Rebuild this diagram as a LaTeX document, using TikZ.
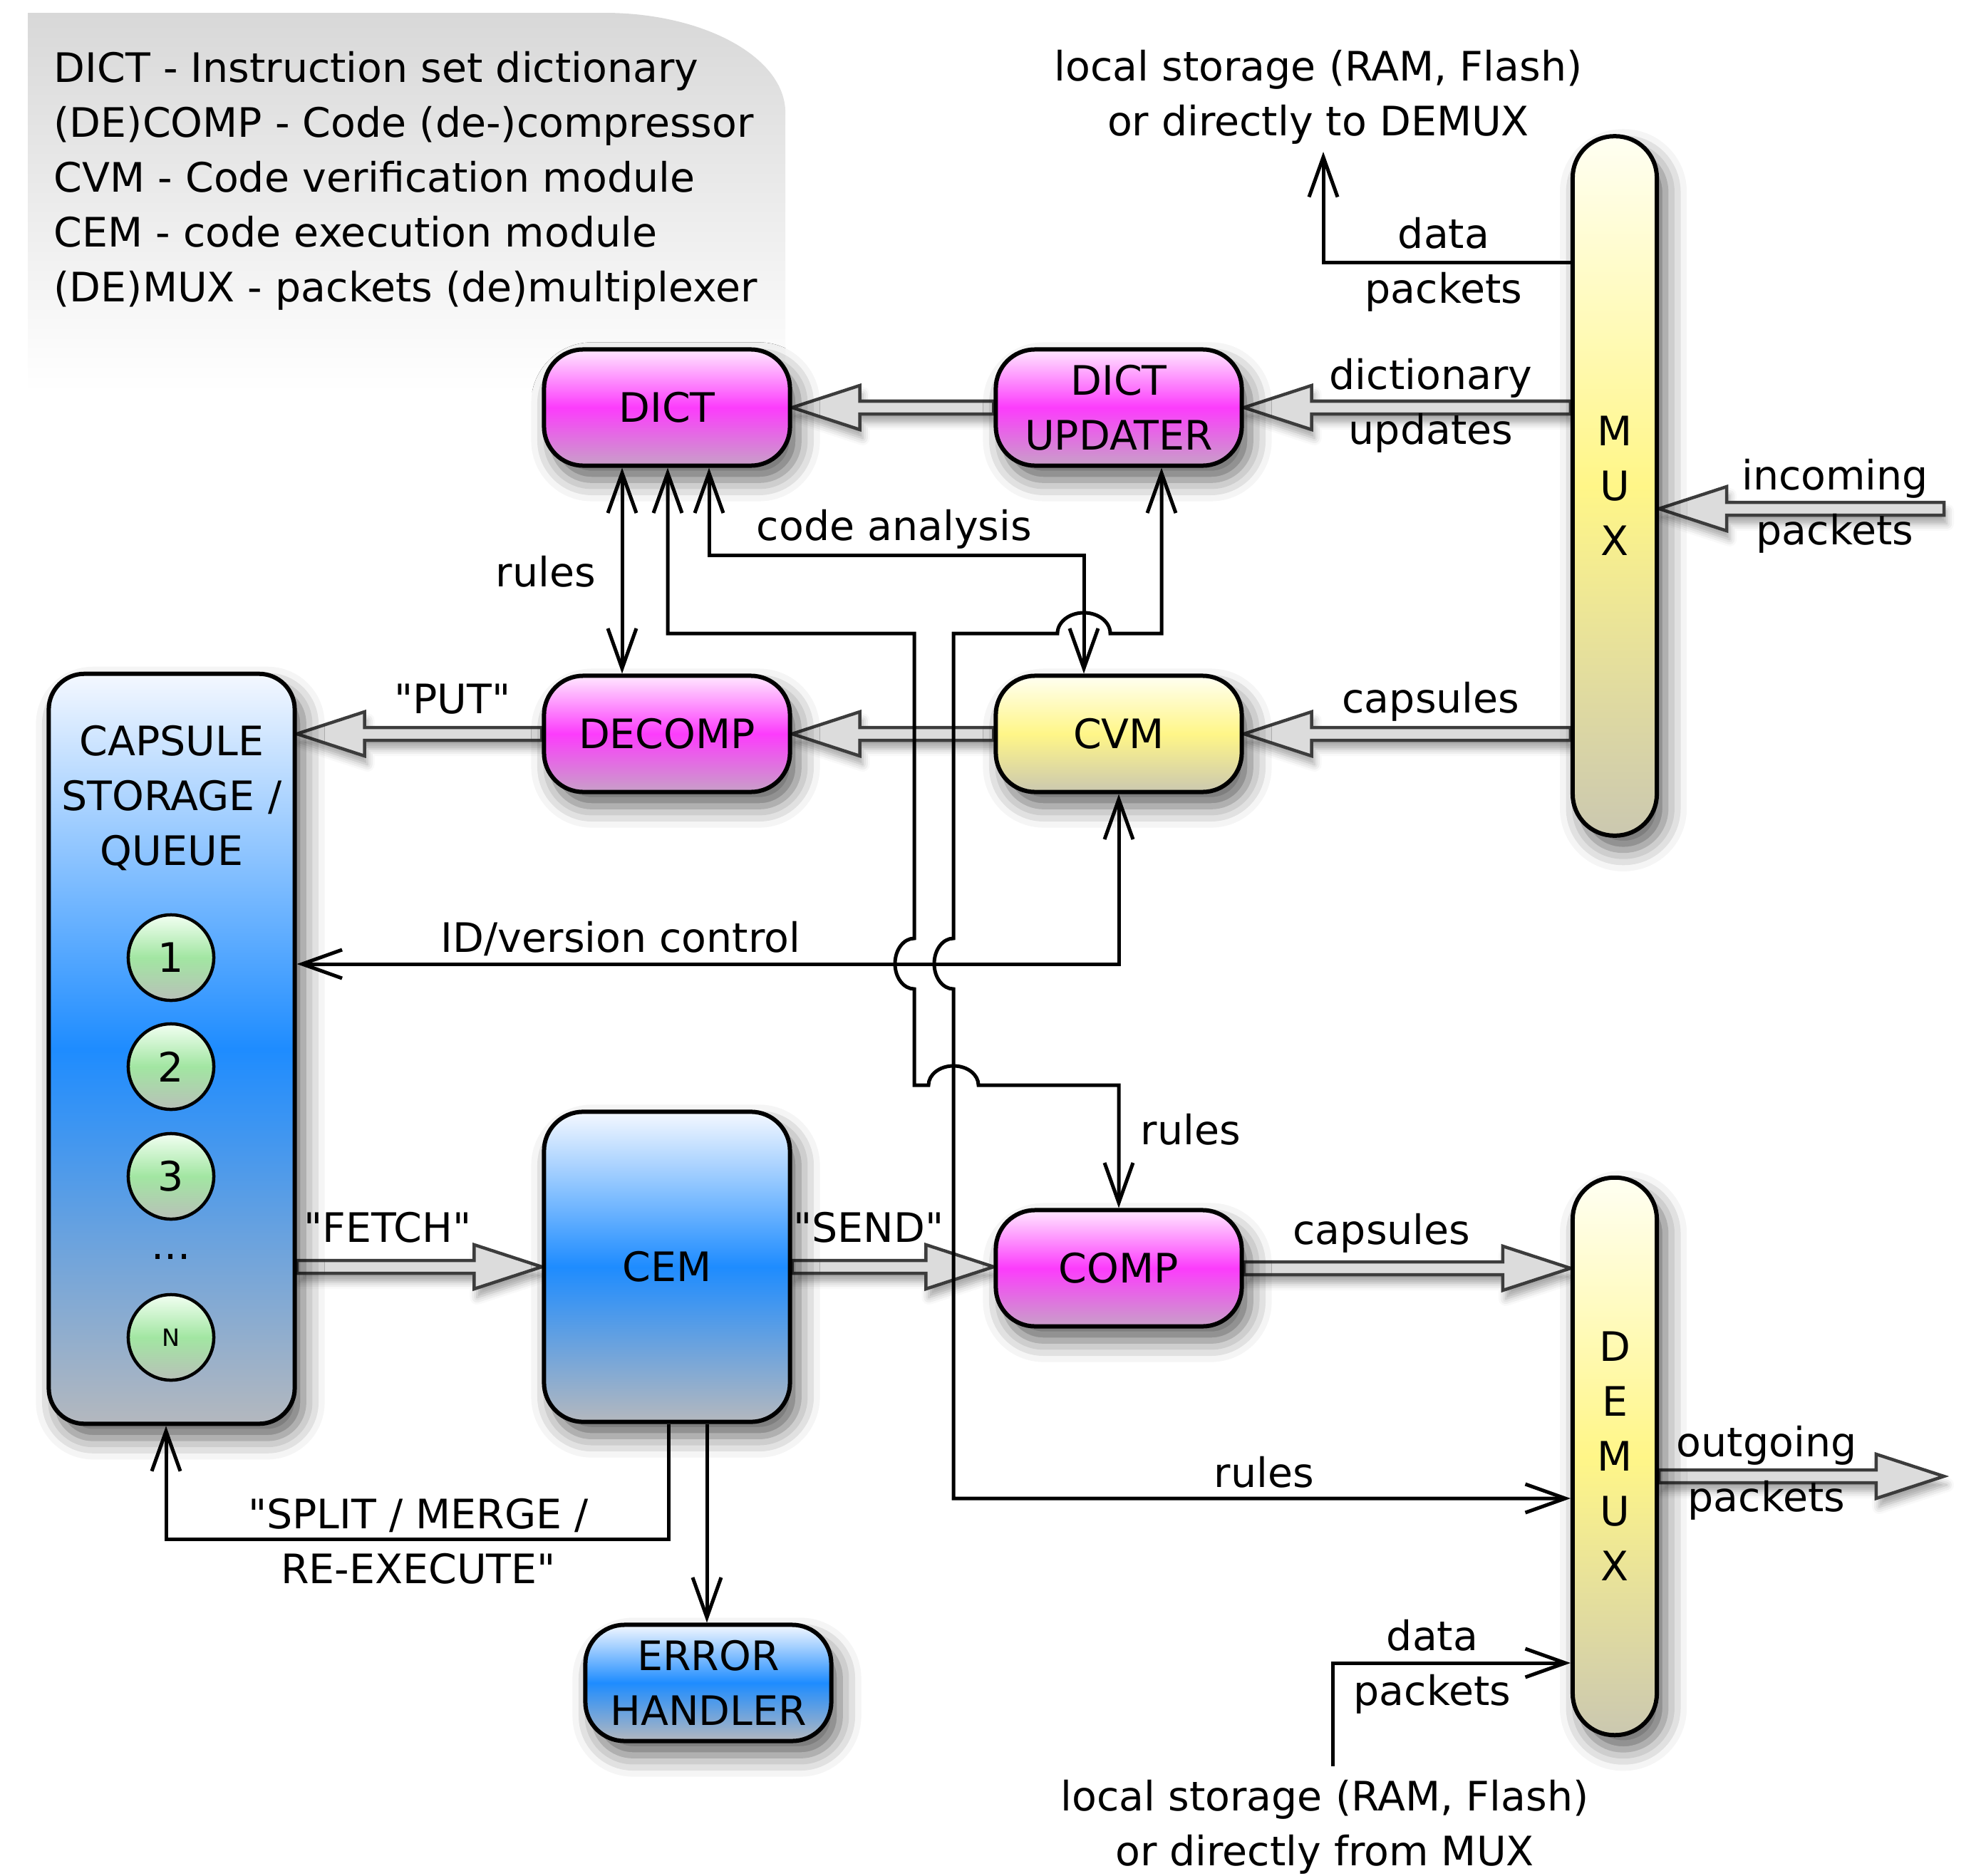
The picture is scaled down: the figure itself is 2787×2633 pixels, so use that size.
\documentclass[tikz,border=0pt]{standalone}
\usepackage{fontspec}
\setmainfont{DejaVu Sans}
\usetikzlibrary{arrows.meta,shadows.blur,calc}
\pgfdeclarelayer{arr}
\pgfsetlayers{arr,main}
\definecolor{magtop}{HTML}{FFE8FF}
\definecolor{magmid}{HTML}{FC3CFC}
\definecolor{magbot}{HTML}{C8A0C8}
\definecolor{yeltop}{HTML}{FFFFF2}
\definecolor{yelmid}{HTML}{FFF688}
\definecolor{yelbot}{HTML}{CBC8B0}
\definecolor{blutop}{HTML}{F4F8FF}
\definecolor{blumid}{HTML}{1E8CFF}
\definecolor{blubot}{HTML}{B4B8BE}
\definecolor{grntop}{HTML}{F2FFF2}
\definecolor{grnmid}{HTML}{A2E6A2}
\definecolor{grnbot}{HTML}{B8C0B8}
\definecolor{arrgray}{HTML}{3C3C3C}
\definecolor{arrfill}{HTML}{DCDCDC}
\definecolor{leggray}{HTML}{D8D8D8}
\newcommand\dfont{\fontsize{16.2pt}{21.9pt}\selectfont}
\newcommand\nfont{\fontsize{9.5pt}{11pt}\selectfont}
\newcommand\dq{\textquotedbl}
\def\hsw{0.09cm}
\def\hhw{0.31cm}
\def\hhl{0.95cm}
\newcommand\harrow[2]{%
  \path[hollowarr] let \p1=(#1), \p2=(#2), \n1={sign(\x2-\x1)} in
    (\x1,{\y1+\hsw}) -- ({\x2-(\n1)*\hhl},{\y1+\hsw}) -- ({\x2-(\n1)*\hhl},{\y1+\hhw}) -- (\x2,\y1)
    -- ({\x2-(\n1)*\hhl},{\y1-\hhw}) -- ({\x2-(\n1)*\hhl},{\y1-\hsw}) -- (\x1,{\y1-\hsw}) -- cycle;}
\begin{document}
\begin{tikzpicture}[x=0.01cm,y=-0.01cm,
  vtip/.tip={Straight Barb[length=0.56cm,width=0.40cm]},
  nshadow/.style={blur shadow={shadow xshift=0.12cm,shadow yshift=-0.2cm,shadow blur radius=0.3cm,shadow opacity=62}},
  box/.style={rectangle,rounded corners=0.55cm,draw=black,line width=0.06cm,
    minimum width=3.45cm,minimum height=1.63cm,align=center,inner sep=0pt,font=\dfont,nshadow},
  mag/.style={box,top color=magtop,bottom color=magbot,middle color=magmid},
  yel/.style={box,top color=yeltop,bottom color=yelbot,middle color=yelmid},
  blu/.style={box,top color=blutop,bottom color=blubot,middle color=blumid},
  bar/.style={yel,rounded corners=0.58cm,minimum width=1.18cm},
  gcirc/.style={circle,draw=black,line width=0.045cm,minimum size=1.2cm,inner sep=0pt,
    top color=grntop,bottom color=grnbot,middle color=grnmid,font=\dfont},
  lbl/.style={inner sep=0pt,align=center,font=\dfont},
  conn/.style={draw=black,line width=0.05cm,line join=miter},
  hollowarr/.style={draw=arrgray,fill=arrfill,line width=0.045cm,line join=miter,
    blur shadow={shadow xshift=0.04cm,shadow yshift=-0.12cm,shadow blur radius=0.1cm,shadow opacity=35}}
]
\useasboundingbox (0,0) rectangle (2787,2633);

% legend panel
\shade[top color=leggray,bottom color=white]
  (39,18) -- (848,18) arc[start angle=90,end angle=0,x radius=2.54cm,y radius=1.4cm]
  -- (1102,550) -- (39,550) -- cycle;
\node[lbl,align=left,anchor=west] (legend) at (75,254)
  {DICT - Instruction set dictionary\\(DE)COMP - Code (de-)compressor\\CVM - Code verification module\\CEM - code execution module\\(DE)MUX - packets (de)multiplexer};

% nodes
\node[mag] (dict) at (936,572) {DICT};
\node[mag] (dictupd) at (1570,572) {DICT\\UPDATER};
\node[mag] (decomp) at (936,1030) {DECOMP};
\node[yel] (cvm) at (1570,1030) {CVM};
\node[blu,minimum height=10.52cm,rounded corners=0.5cm] (storage) at (241,1472) {};
\node[lbl] (storagelbl) at (241,1120) {CAPSULE\\STORAGE /\\QUEUE};
\node[gcirc] (c1) at (240,1344) {1};
\node[gcirc] (c2) at (240,1497) {2};
\node[gcirc] (c3) at (240,1651) {3};
\node[lbl] (cdots) at (240,1764) {...};
\node[gcirc,font=\nfont] (cn) at (240,1877) {N};
\node[blu,minimum height=4.35cm] (cem) at (936,1778) {CEM};
\node[mag] (comp) at (1570,1780) {COMP};
\node[blu] (errh) at (994,2362) {ERROR\\HANDLER};
\node[bar,minimum height=9.81cm] (mux) at (2266,682) {M\\U\\X};
\node[bar,minimum height=7.82cm] (demux) at (2266,2044) {D\\E\\M\\U\\X};

\coordinate (inTail) at (2728,714);
\coordinate (outTip) at (2728,2072);
\coordinate (dpTop) at (1857,213);
\coordinate (dpBot) at (1870,2479);

% hollow arrows
\begin{pgfonlayer}{arr}
\harrow{dictupd.west}{dict.east}
\harrow{mux.west |- dictupd.east}{dictupd.east}
\harrow{inTail}{mux.east |- inTail}
\harrow{mux.west |- cvm.east}{cvm.east}
\harrow{cvm.west}{decomp.east}
\harrow{decomp.west}{storage.east |- decomp.west}
\harrow{storage.east |- cem.west}{cem.west}
\harrow{cem.east}{comp.west}
\harrow{comp.east}{demux.west |- comp.east}
\harrow{demux.east |- outTip}{outTip}
\end{pgfonlayer}

% thin connectors
\draw[conn,-vtip] (mux.west |- 0,368) -| (dpTop);
\draw[conn,vtip-vtip] (dict.south -| 873,0) -- (decomp.north -| 873,0);
\draw[conn,vtip-vtip] (dict.south -| 995,0) -- (995,779) -| (cvm.north -| 1521,0);
\draw[conn,vtip-vtip] (dict.south -| 937,0) -- (937,889) -- (1283,889) -- (1283,1317)
  arc[start angle=90,end angle=270,x radius=0.27cm,y radius=0.355cm] -- (1283,1523) -- (1303,1523)
  arc[start angle=180,end angle=0,x radius=0.35cm,y radius=0.27cm] -- (1570,1523) -- (comp.north);
\draw[conn,vtip-vtip] (dictupd.south -| 1630,0) -- (1630,889) -- (1558,889)
  arc[start angle=0,end angle=180,x radius=0.37cm,y radius=0.29cm] -- (1338,889) -- (1338,1317)
  arc[start angle=90,end angle=270,x radius=0.27cm,y radius=0.355cm] -- (1338,2103) -- (demux.west |- 0,2103);
\draw[conn,vtip-vtip] (cvm.south) -- (1570,1353) -- (storage.east |- 0,1353);
\draw[conn,-vtip] (cem.south -| 992,0) -- (errh.north -| 992,0);
\draw[conn,-vtip] (cem.south -| 938,0) -- (938,2160) -| (storage.south -| 233,0);
\draw[conn,-vtip] (dpBot) |- (demux.west |- 0,2334);

% labels
\node[lbl] (l1) at (1850,136) {local storage (RAM, Flash)\\or directly to DEMUX};
\node[lbl] (l2) at (2026,371) {data\\packets};
\node[lbl] (l3) at (2008,569) {dictionary\\updates};
\node[lbl] (l4) at (2575,710) {incoming\\packets};
\node[lbl] (l5) at (2008,985) {capsules};
\node[lbl] (l6) at (766,802) {rules};
\node[lbl] (l7) at (1255,743) {code analysis};
\node[lbl] (l8) at (635,981) {\dq PUT\dq};
\node[lbl] (l9) at (871,1317) {ID/version control};
\node[lbl] (l10) at (1671,1585) {rules};
\node[lbl] (l11) at (544,1723) {\dq FETCH\dq};
\node[lbl] (l12) at (1219,1723) {\dq SEND\dq};
\node[lbl] (l13) at (1939,1731) {capsules};
\node[lbl] (l14) at (1774,2066) {rules};
\node[lbl] (l15) at (2479,2067) {outgoing\\packets};
\node[lbl] (l16) at (587,2163) {\dq SPLIT / MERGE /\\RE-EXECUTE\dq};
\node[lbl] (l17) at (2010,2339) {data\\packets};
\node[lbl] (l18) at (1859,2564) {local storage (RAM, Flash)\\or directly from MUX};
\end{tikzpicture}
\end{document}
